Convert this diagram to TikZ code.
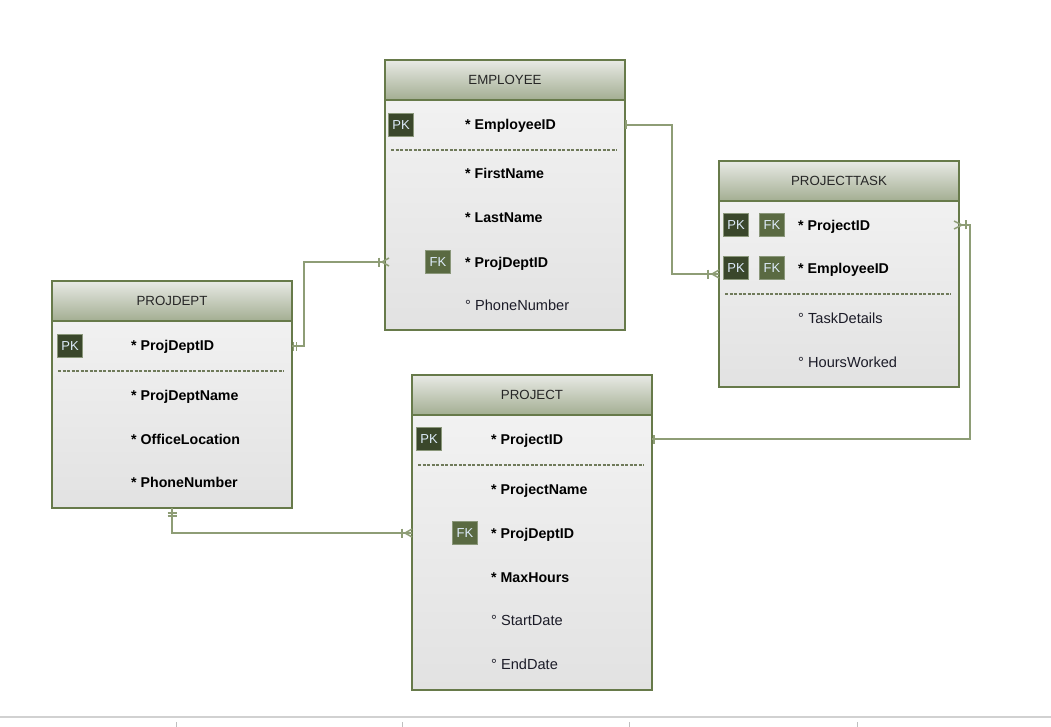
\documentclass[tikz,border=0pt]{standalone}
\usepackage{fontspec}
\setmainfont{Liberation Sans}
\usetikzlibrary{calc}
\definecolor{bord}{HTML}{677A4A}
\definecolor{conncol}{HTML}{8E9D76}
\definecolor{hdtop}{HTML}{E8EAE5}
\definecolor{hdbot}{HTML}{A3AE92}
\definecolor{bdtop}{HTML}{F4F4F4}
\definecolor{bdbot}{HTML}{E2E2E2}
\definecolor{pkfill}{HTML}{3A472B}
\definecolor{fkfill}{HTML}{5A6A42}
\definecolor{badgeedge}{HTML}{8A977A}
\definecolor{badgetxt}{HTML}{DDEBFA}
\definecolor{dashcol}{HTML}{6F7A5A}
\definecolor{txtcol}{HTML}{1C1C28}
\tikzset{
 tbody/.style={draw=bord, line width=2pt, top color=bdtop, bottom color=bdbot, anchor=north west, inner sep=0pt, outer sep=0pt, minimum width=240pt},
 thead/.style={draw=bord, line width=2pt, top color=hdtop, bottom color=hdbot, anchor=north west, minimum height=40pt, minimum width=240pt, inner sep=0pt, outer sep=0pt, font=\fontsize{13.3}{15}\selectfont, text=black!85, text height=9.5pt, text depth=0pt},
 pkbadge/.style={fill=pkfill, draw=badgeedge, line width=0.8pt, minimum width=25pt, minimum height=23pt, inner sep=0pt, text=badgetxt, font=\fontsize{13}{15}\selectfont, text height=9.5pt, text depth=0pt},
 fkbadge/.style={pkbadge, fill=fkfill},
 attr/.style={anchor=base west, inner sep=0pt, font=\bfseries\fontsize{14.2}{16}\selectfont, text=black},
 optattr/.style={anchor=base west, inner sep=0pt, font=\fontsize{14.6}{16}\selectfont, text=txtcol},
 dashsep/.style={draw=dashcol, line width=1.3pt, dash pattern=on 3pt off 1.5pt},
 conn/.style={draw=conncol, line width=1.5pt},
}
\newcommand\barmark[3]{%
  \draw[conn] ($(#1)+(#2:#3)+(#2+90:4.5)$) -- ($(#1)+(#2:#3)+(#2-90:4.5)$);}
\newcommand\crowmark[4]{%
  \draw[conn] ($(#1)+(#2+90:4)+(#2:#4)$) -- ($(#1)+(#2:#3)$) -- ($(#1)+(#2-90:4)+(#2:#4)$);}
\begin{document}
\begin{tikzpicture}[x=1pt,y=-1pt]
\useasboundingbox (0,0) rectangle (1051,727);
\fill[white] (0,0) rectangle (1051,727);

% ---------- EMPLOYEE
\node[tbody, minimum height=270pt] (emp) at (385,60) {};
\node[thead] (emph) at (385,60) {EMPLOYEE};
\node[pkbadge] (e-pk) at (401,125) {PK};
\node[attr] (e-r1) at (465,130) {* EmployeeID};
\draw[dashsep] (391,150) -- (617,150);
\node[attr] (e-r2) at (465,179) {* FirstName};
\node[attr] (e-r3) at (465,223) {* LastName};
\node[fkbadge] (e-fk) at (438,262) {FK};
\node[attr] (e-r4) at (465,267) {* ProjDeptID};
\node[optattr] (e-r5) at (465,310) {° PhoneNumber};

% ---------- PROJECTTASK
\node[tbody, minimum height=226pt] (pt) at (719,161) {};
\node[thead] (pth) at (719,161) {PROJECTTASK};
\node[pkbadge] (t-pk1) at (736,225) {PK};
\node[fkbadge] (t-fk1) at (772,225) {FK};
\node[attr] (t-r1) at (798,230) {* ProjectID};
\node[pkbadge] (t-pk2) at (736,268) {PK};
\node[fkbadge] (t-fk2) at (772,268) {FK};
\node[attr] (t-r2) at (798,273) {* EmployeeID};
\draw[dashsep] (725,294) -- (951,294);
\node[optattr] (t-r3) at (798,323) {° TaskDetails};
\node[optattr] (t-r4) at (798,367) {° HoursWorked};

% ---------- PROJDEPT
\node[tbody, minimum height=227pt] (pd) at (52,281) {};
\node[thead] (pdh) at (52,281) {PROJDEPT};
\node[pkbadge] (d-pk) at (70,346) {PK};
\node[attr] (d-r1) at (131,350) {* ProjDeptID};
\draw[dashsep] (58,371) -- (284,371);
\node[attr] (d-r2) at (131,400) {* ProjDeptName};
\node[attr] (d-r3) at (131,444) {* OfficeLocation};
\node[attr] (d-r4) at (131,487) {* PhoneNumber};

% ---------- PROJECT
\node[tbody, minimum height=315pt] (pj) at (412,375) {};
\node[thead] (pjh) at (412,375) {PROJECT};
\node[pkbadge] (p-pk) at (429,439) {PK};
\node[attr] (p-r1) at (491,444) {* ProjectID};
\draw[dashsep] (418,465) -- (644,465);
\node[attr] (p-r2) at (491,494) {* ProjectName};
\node[fkbadge] (p-fk) at (465,533) {FK};
\node[attr] (p-r3) at (491,538) {* ProjDeptID};
\node[attr] (p-r4) at (491,582) {* MaxHours};
\node[optattr] (p-r5) at (491,625) {° StartDate};
\node[optattr] (p-r6) at (491,669) {° EndDate};

% ---------- connectors
\coordinate (pte) at ($(t-pk2)+(0,6)$);
\coordinate (c1s) at (emp.east |- e-pk);
\coordinate (c1e) at (pt.west |- pte);
\draw[conn] (c1s) -- ++(47,0) |- (c1e);
\barmark{c1s}{0}{1}
\barmark{c1e}{180}{11}
\crowmark{c1e}{180}{7}{0}

\coordinate (c2s) at (pd.east |- d-pk);
\coordinate (c2e) at (emp.west |- e-fk);
\draw[conn] (c2s) -- ++(12,0) |- (c2e);
\barmark{c2s}{0}{1.5}
\barmark{c2s}{0}{4.5}
\barmark{c2e}{180}{6}
\crowmark{c2e}{180}{3}{-4}

\coordinate (c3s) at (pj.east |- p-pk);
\coordinate (c3e) at (pt.east |- t-pk1);
\draw[conn] (c3s) -- ++(318,0) |- (c3e);
\barmark{c3s}{0}{2}
\barmark{c3e}{0}{7}
\crowmark{c3e}{0}{3}{-5}

\coordinate (c4s) at (pd.south);
\coordinate (c4e) at (pj.west |- p-fk);
\draw[conn] (c4s) |- (c4e);
\barmark{c4s}{90}{5}
\barmark{c4s}{90}{8}
\barmark{c4e}{180}{10}
\crowmark{c4e}{180}{7}{0}

% ---------- bottom ruler
\draw[black!18, line width=1.5pt] (0,717) -- (1051,717);
\foreach \tx in {176,402,629,857}
  \draw[black!25, line width=0.8pt] (\tx,722) -- (\tx,727);
\end{tikzpicture}
\end{document}
